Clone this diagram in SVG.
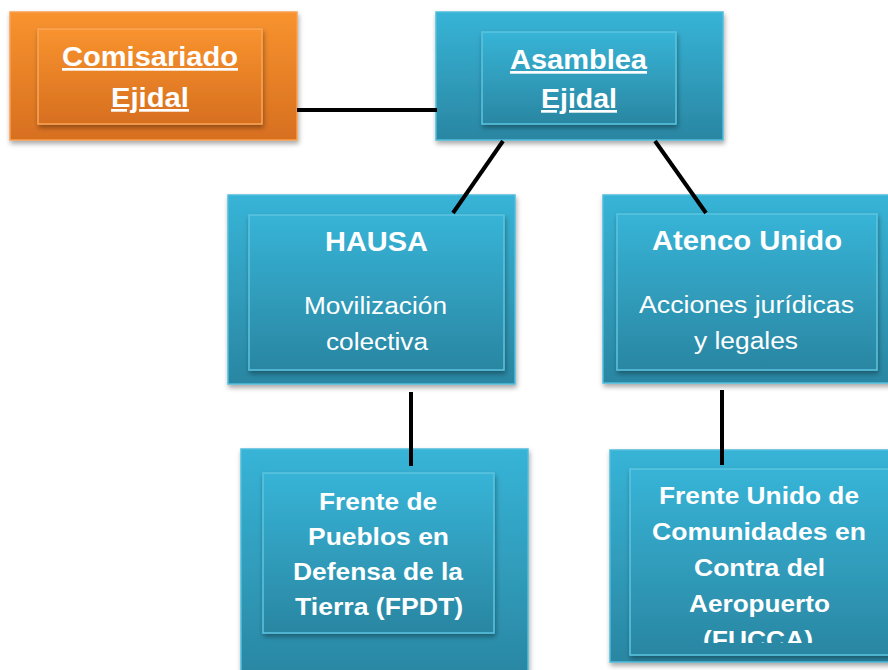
<svg xmlns="http://www.w3.org/2000/svg" width="888" height="670" viewBox="0 0 888 670">
<defs>
<linearGradient id="gBlue" x1="0" y1="0" x2="0" y2="1">
<stop offset="0" stop-color="#37b4d7"/>
<stop offset="1" stop-color="#2a86a2"/>
</linearGradient>
<linearGradient id="gOrange" x1="0" y1="0" x2="0" y2="1">
<stop offset="0" stop-color="#f8932f"/>
<stop offset="1" stop-color="#d76f1f"/>
</linearGradient>
<filter id="sh" x="-10%" y="-10%" width="125%" height="130%">
<feDropShadow dx="1" dy="3" stdDeviation="2.5" flood-color="#000" flood-opacity="0.35"/>
</filter>
<clipPath id="clipF"><rect x="630" y="469" width="258" height="174"/></clipPath>
</defs>
<style>
.ob{fill:url(#gBlue);stroke:#4fbddb;stroke-width:1.5;filter:url(#sh)}
.oo{fill:url(#gOrange);stroke:#f9a050;stroke-width:1.5;filter:url(#sh)}
.ib{fill:url(#gBlue);stroke:#5cc3df;stroke-width:1.5;filter:url(#sh)}
.io{fill:url(#gOrange);stroke:#fba65a;stroke-width:1.5;filter:url(#sh)}
text{font-family:"Liberation Sans",Arial,sans-serif;fill:#fff;text-anchor:middle}
.b{font-weight:bold;font-size:27px}
.t{font-weight:bold;font-size:28px}
.n{font-size:23px}
.f{font-weight:bold;font-size:24px}
.c{stroke:#000;stroke-width:4;fill:none}
</style>
<g id="comisariado">
<rect class="oo" x="10" y="12" width="287" height="128"/>
<rect class="io" x="38" y="29" width="224" height="95"/>
<text class="b" x="150" y="66" text-decoration="underline" textLength="176" lengthAdjust="spacingAndGlyphs">Comisariado</text>
<text class="b" x="150" y="107" text-decoration="underline" textLength="78" lengthAdjust="spacingAndGlyphs">Ejidal</text>
</g>
<g id="asamblea">
<rect class="ob" x="436" y="12" width="287" height="128"/>
<rect class="ib" x="482" y="32" width="194" height="92"/>
<text class="b" x="578.5" y="69" text-decoration="underline" textLength="137" lengthAdjust="spacingAndGlyphs">Asamblea</text>
<text class="b" x="579" y="108" text-decoration="underline" textLength="76" lengthAdjust="spacingAndGlyphs">Ejidal</text>
</g>
<g id="hausa">
<rect class="ob" x="228" y="195" width="287" height="189"/>
<rect class="ib" x="249" y="215" width="255" height="155"/>
<text class="t" x="376.5" y="251" textLength="103" lengthAdjust="spacingAndGlyphs">HAUSA</text>
<text class="n" x="375.5" y="314" textLength="143" lengthAdjust="spacingAndGlyphs">Movilización</text>
<text class="n" x="377" y="350" textLength="102" lengthAdjust="spacingAndGlyphs">colectiva</text>
</g>
<g id="atenco">
<rect class="ob" x="603" y="195" width="290" height="188"/>
<rect class="ib" x="617" y="214" width="260" height="156"/>
<text class="t" x="747" y="250" textLength="190" lengthAdjust="spacingAndGlyphs">Atenco Unido</text>
<text class="n" x="746.5" y="313" textLength="215" lengthAdjust="spacingAndGlyphs">Acciones jurídicas</text>
<text class="n" x="746" y="349" textLength="104" lengthAdjust="spacingAndGlyphs">y legales</text>
</g>
<g id="fpdt">
<rect class="ob" x="241" y="449" width="287" height="230"/>
<rect class="ib" x="263" y="473" width="231" height="160"/>
<text class="f" x="378" y="510" textLength="118" lengthAdjust="spacingAndGlyphs">Frente de</text>
<text class="f" x="378.5" y="545" textLength="141" lengthAdjust="spacingAndGlyphs">Pueblos en</text>
<text class="f" x="378" y="580" textLength="170" lengthAdjust="spacingAndGlyphs">Defensa de la</text>
<text class="f" x="379" y="615" textLength="168" lengthAdjust="spacingAndGlyphs">Tierra (FPDT)</text>
</g>
<g id="fucca">
<rect class="ob" x="610" y="450" width="290" height="212"/>
<rect class="ib" x="630" y="469" width="270" height="186"/>
<g clip-path="url(#clipF)">
<text class="f" x="759" y="504" textLength="200" lengthAdjust="spacingAndGlyphs">Frente Unido de</text>
<text class="f" x="759" y="540" textLength="214" lengthAdjust="spacingAndGlyphs">Comunidades en</text>
<text class="f" x="759.5" y="576" textLength="131" lengthAdjust="spacingAndGlyphs">Contra del</text>
<text class="f" x="759.5" y="612" textLength="141" lengthAdjust="spacingAndGlyphs">Aeropuerto</text>
<text class="f" x="758" y="648" textLength="110" lengthAdjust="spacingAndGlyphs">(FUCCA)</text>
</g>
</g>
<g id="connectors">
<line class="c" x1="297" y1="110" x2="437" y2="110"/>
<line class="c" x1="503" y1="141" x2="453" y2="213"/>
<line class="c" x1="655" y1="141" x2="706" y2="213"/>
<line class="c" x1="411" y1="392" x2="411" y2="466"/>
<line class="c" x1="722" y1="390" x2="722" y2="465"/>
</g>
</svg>
